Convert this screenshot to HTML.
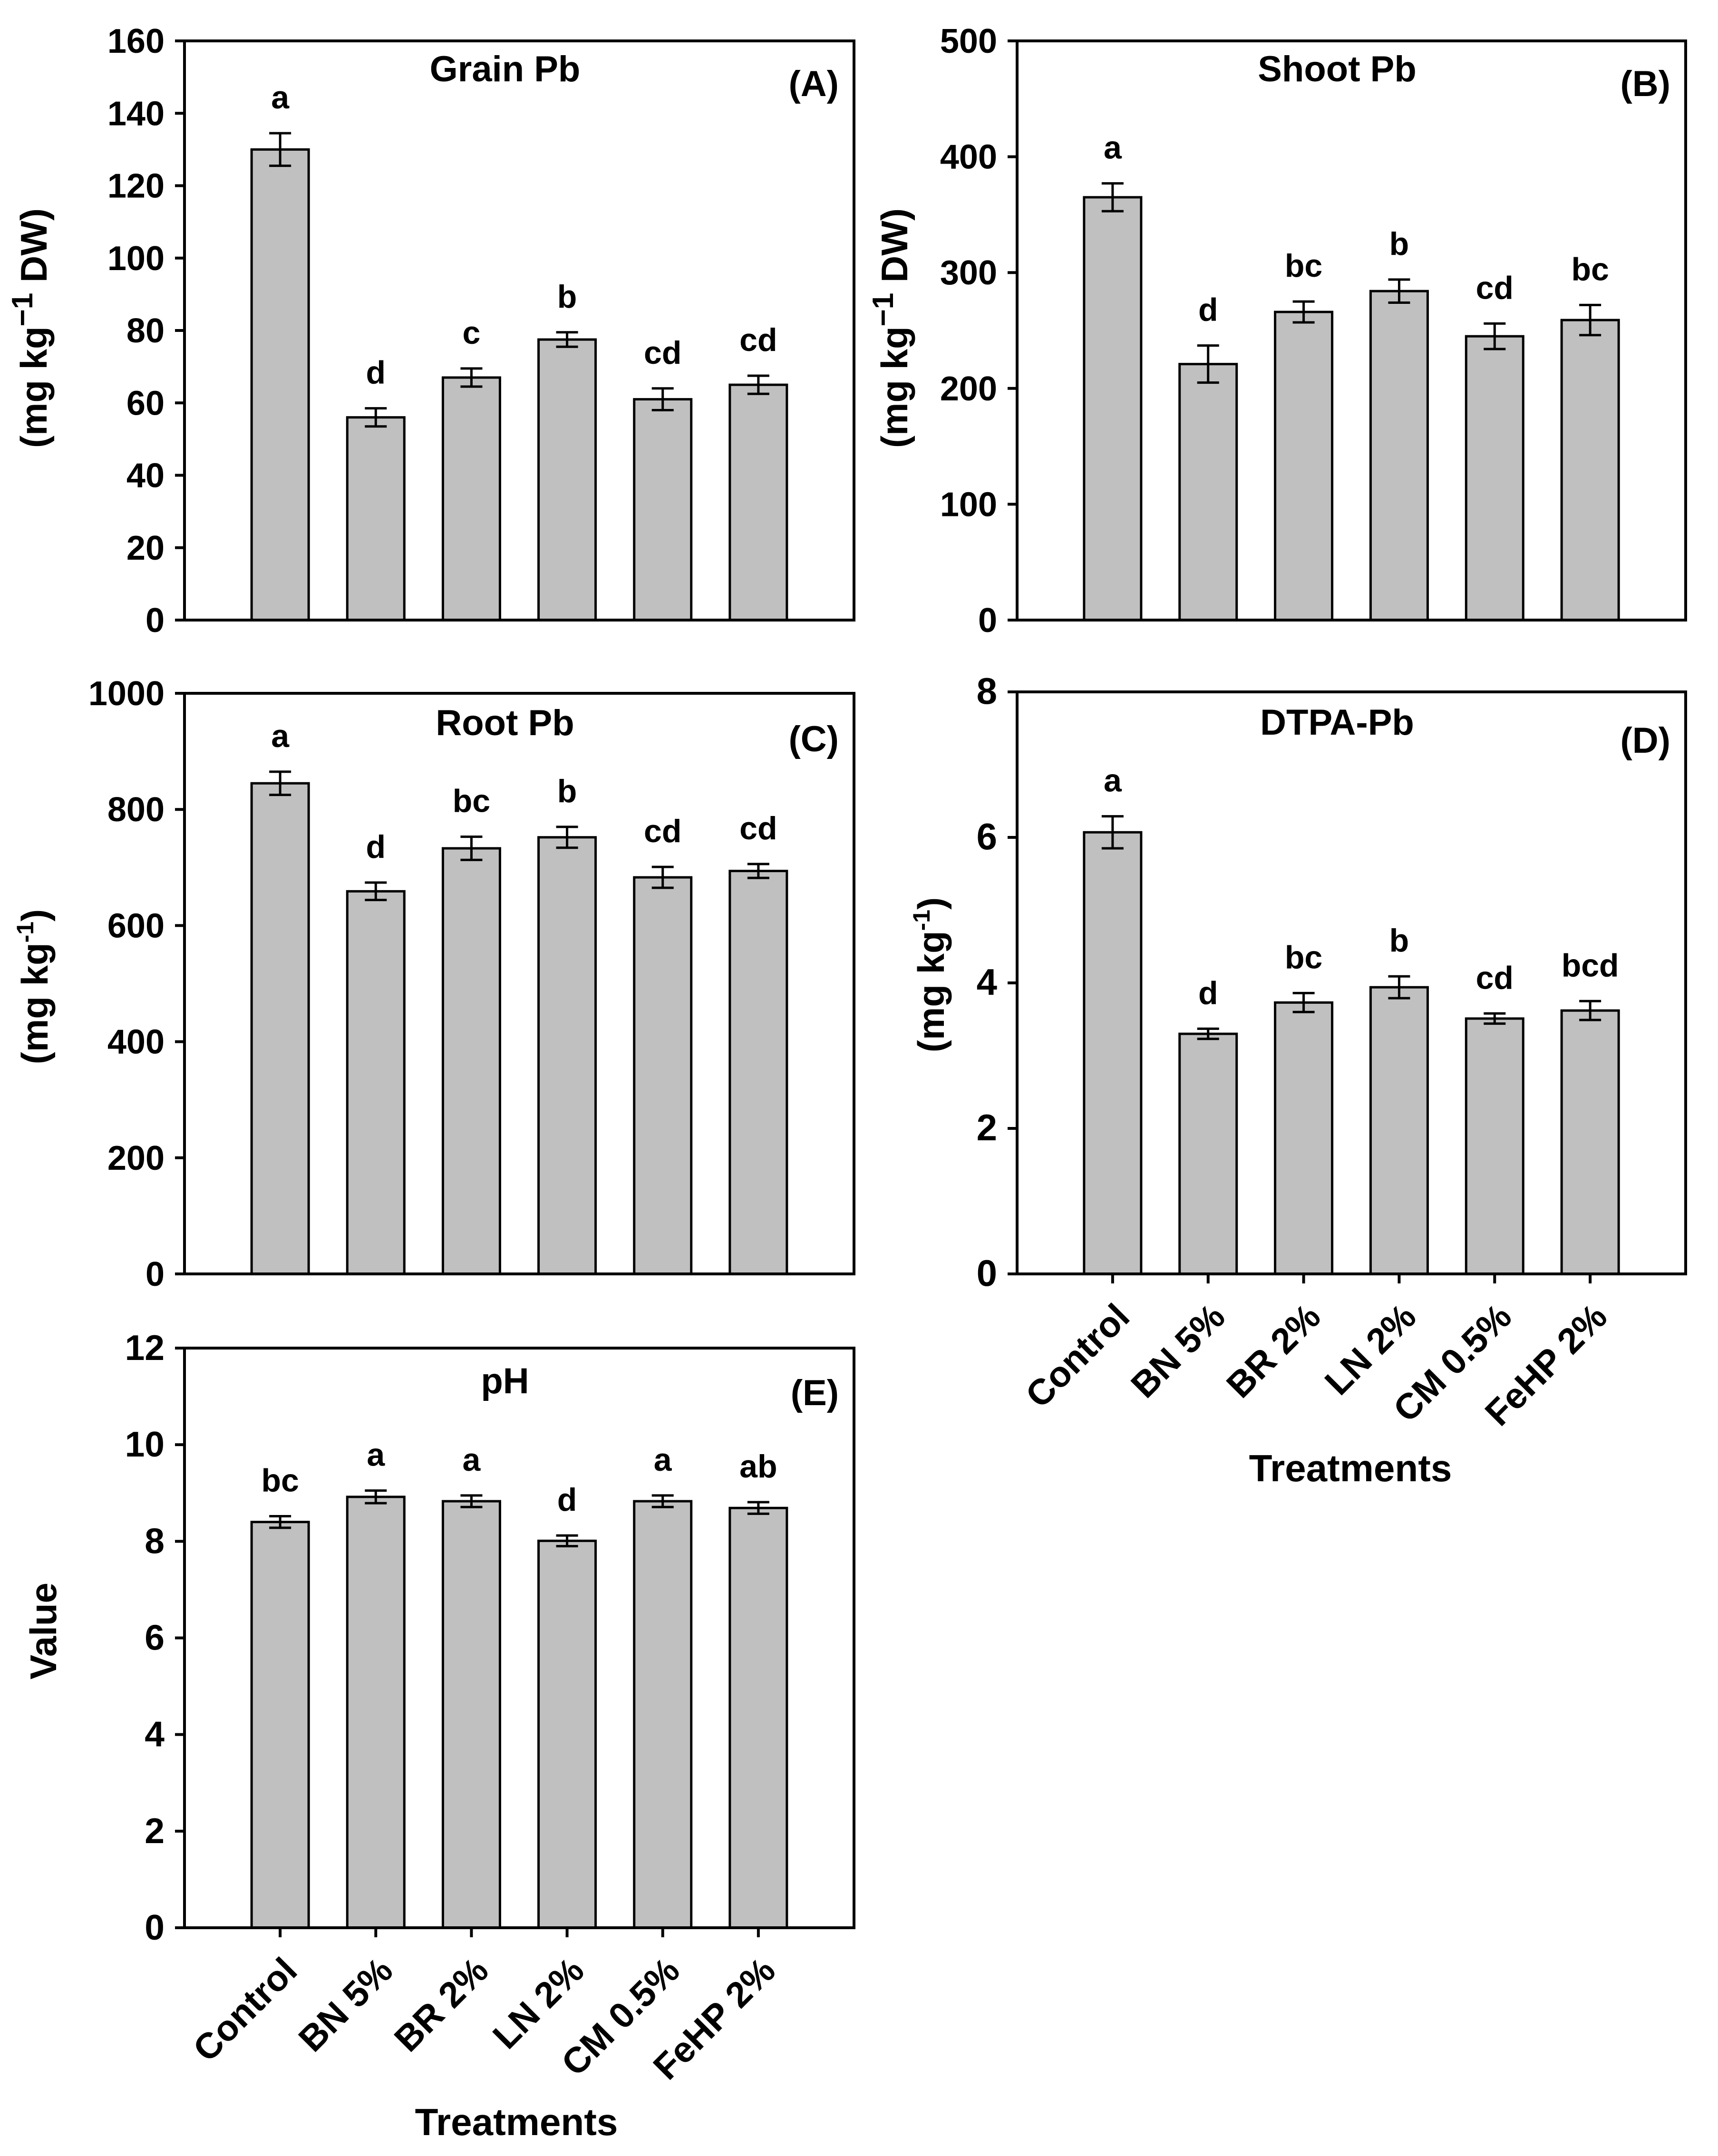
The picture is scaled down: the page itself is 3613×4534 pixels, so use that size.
<!DOCTYPE html>
<html><head><meta charset="utf-8">
<style>
html,body{margin:0;padding:0;background:#fff;}
svg{display:block;font-family:"Liberation Sans",Arial,sans-serif;font-weight:bold;}
</style></head>
<body>
<svg id="fig" width="3613" height="4534" viewBox="0 0 3613 4534" xmlns="http://www.w3.org/2000/svg">
<rect width="3613" height="4534" fill="#fff"/>
<g id="layer"></g>
</svg>
<script>
const categories = ["Control","BN 5%","BR 2%","LN 2%","CM 0.5%","FeHP 2%"];
const grainValues = [130, 56, 67, 77.5, 61, 65];
const grainErrors = [4.5, 2.5, 2.5, 2, 3, 2.5];
const grainLetters = ["a","d","c","b","cd","cd"];
const grainTicks = [0,20,40,60,80,100,120,140,160];
const shootValues = [365, 221, 266, 284, 245, 259];
const shootErrors = [12, 16, 9, 10, 11, 13];
const shootLetters = ["a","d","bc","b","cd","bc"];
const shootTicks = [0,100,200,300,400,500];
const rootValues = [845, 659, 733, 752, 683, 694];
const rootErrors = [20, 15, 20, 18, 18, 12];
const rootLetters = ["a","d","bc","b","cd","cd"];
const rootTicks = [0,200,400,600,800,1000];
const dtpaValues = [6.07, 3.30, 3.73, 3.94, 3.51, 3.62];
const dtpaErrors = [0.22, 0.07, 0.13, 0.15, 0.07, 0.13];
const dtpaLetters = ["a","d","bc","b","cd","bcd"];
const dtpaTicks = [0,2,4,6,8];
const phValues = [8.40, 8.92, 8.83, 8.01, 8.83, 8.69];
const phErrors = [0.12, 0.13, 0.12, 0.11, 0.12, 0.12];
const phLetters = ["bc","a","a","d","a","ab"];
const phTicks = [0,2,4,6,8,10,12];

const NS = "http://www.w3.org/2000/svg";
const layer = document.getElementById("layer");
function mk(tag, attrs, parent){
  const e = document.createElementNS(NS, tag);
  for (const k in attrs) e.setAttribute(k, attrs[k]);
  (parent||layer).appendChild(e);
  return e;
}

function panel(o){
  const g = mk("g", {});
  
  
  const L=o.L,R=o.R,T=o.T,B=o.B;
  const ymax = o.ticks[o.ticks.length-1];
  const y = v => B - v/ymax*(B-T);
  const slot = (R-L)/7;
  const x = i => L + (i+1)*slot;
  const bw = 120;
  o.values.forEach((v,i)=>{
    const r = mk("rect",{x:x(i)-bw/2,y:y(v),width:bw,height:B-y(v),fill:"#c0c0c0",stroke:"#000","stroke-width":5},g);
    
    
    const e = o.errors[i];
    const eb = mk("path",{d:`M${x(i)},${y(v+e)}V${y(v-e)}M${x(i)-23},${y(v+e)}h46M${x(i)-23},${y(v-e)}h46`,stroke:"#000","stroke-width":5,fill:"none"},g);
    
    
    const t = mk("text",{x:x(i),y:y(v+e)-52,"text-anchor":"middle","font-size":68},g);
    t.textContent = o.letters[i];
    
    
  });
  const f = mk("rect",{x:L,y:T,width:R-L,height:B-T,fill:"none",stroke:"#000","stroke-width":6},g);
  
  
  o.ticks.forEach(tv=>{
    mk("line",{x1:L-20,x2:L,y1:y(tv),y2:y(tv),stroke:"#000","stroke-width":6},g);
    const t = mk("text",{x:L-42,y:y(tv)+25,"text-anchor":"end","font-size":o.tickSize},g);
    t.textContent = tv;
    
    
  });
  const ti = mk("text",{x:(L+R)/2-30,y:T+o.titleDy,"text-anchor":"middle","font-size":76},g);
  ti.textContent = o.title;
  
  
  const tg = mk("text",{x:R-32,y:T+o.tagDy,"text-anchor":"end","font-size":76},g);
  tg.textContent = o.tag;
  
  
  const yt = mk("text",{x:0,y:0,"text-anchor":"middle","font-size":78,transform:`translate(${o.ytx},${o.yty}) rotate(-90)`},g);
  
  
  o.ytitle.forEach(p=>{
    const s = mk("tspan", p.sup?{"font-size":p.size||50,dy:-30}:(p.after?{dy:30}:{}), yt);
    s.textContent = p.t;
  });
  if (o.xlabels){
    categories.forEach((c,i)=>{
      mk("line",{x1:x(i),x2:x(i),y1:B,y2:B+20,stroke:"#000","stroke-width":6},g);
      const t = mk("text",{x:0,y:0,"text-anchor":"end","font-size":76,transform:`translate(${x(i)+40},${B+95}) rotate(-45)`},g);
      t.textContent = c;
      
      
    });
    const xt = mk("text",{x:o.xtx,y:o.xty,"text-anchor":"middle","font-size":80},g);
    xt.textContent = "Treatments";
    
    
  }
}

const dwTitle = [{t:"(mg kg"},{t:"−1",sup:true,size:62},{t:" DW)",after:true}];
const kgTitle = [{t:"(mg kg"},{t:"-1",sup:true,size:50},{t:")",after:true}];
panel({id:"grain",L:388,R:1796,T:86,B:1304,values:grainValues,errors:grainErrors,letters:grainLetters,ticks:grainTicks,tickSize:72,title:"Grain Pb",tag:"(A)",titleDy:85,tagDy:116,ytitle:dwTitle,ytx:98,yty:690});
panel({id:"shoot",L:2139,R:3545,T:86,B:1304,values:shootValues,errors:shootErrors,letters:shootLetters,ticks:shootTicks,tickSize:72,title:"Shoot Pb",tag:"(B)",titleDy:85,tagDy:116,ytitle:dwTitle,ytx:1908,yty:690});
panel({id:"root",L:388,R:1796,T:1458,B:2679,values:rootValues,errors:rootErrors,letters:rootLetters,ticks:rootTicks,tickSize:72,title:"Root Pb",tag:"(C)",titleDy:88,tagDy:122,ytitle:kgTitle,ytx:100,yty:2075});
panel({id:"dtpa",L:2139,R:3545,T:1455,B:2679,values:dtpaValues,errors:dtpaErrors,letters:dtpaLetters,ticks:dtpaTicks,tickSize:78,title:"DTPA-Pb",tag:"(D)",titleDy:90,tagDy:128,ytitle:kgTitle,ytx:1985,yty:2050,xlabels:true,xtx:2840,xty:3115});
panel({id:"ph",L:388,R:1796,T:2835,B:4054,values:phValues,errors:phErrors,letters:phLetters,ticks:phTicks,tickSize:75,title:"pH",tag:"(E)",titleDy:95,tagDy:120,ytitle:[{t:"Value"}],ytx:118,yty:3430,xlabels:true,xtx:1086,xty:4490});
</script>
</body></html>
